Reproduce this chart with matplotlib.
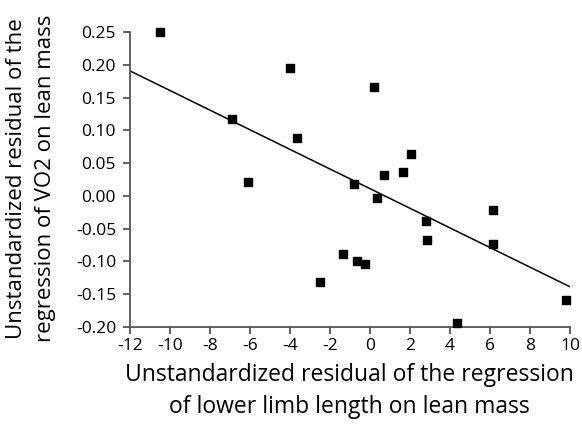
import numpy as np
import matplotlib.pyplot as plt

# residuals
limb_resid = [-10.5, -3.98, -6.9, -3.65, 0.18, 2.03, 0.7, 1.65, -6.1, -0.78,
              0.33, 6.17, 2.78, 2.85, 6.17, -1.35, -0.63, -0.25, -2.48, 9.8, 4.33]
vo2_resid = [0.250, 0.196, 0.117, 0.088, 0.167, 0.064, 0.032, 0.036, 0.021, 0.018,
             -0.004, -0.022, -0.039, -0.068, -0.074, -0.089, -0.100, -0.104, -0.131, -0.159, -0.194]

# regression line endpoints
fit_x = [-12, 10]
fit_y = [0.191, -0.139]

xticks = np.arange(-12, 11, 2)
yticks = np.round(np.arange(-0.20, 0.26, 0.05), 2)

plt.rcParams['font.family'] = ['Open Sans', 'DejaVu Sans']
plt.rcParams['axes.unicode_minus'] = False

fig = plt.figure(figsize=(5.82, 4.26), dpi=100)
ax = fig.add_axes([130/582, 1-326.7/426, 440/582, 294.4/426])

ax.plot(fit_x, fit_y, color='black', lw=1.1, zorder=2)
ax.scatter(limb_resid, vo2_resid, marker='s', s=27, color='black', zorder=3, clip_on=False)

ax.set_xlim(-12, 10)
ax.set_ylim(-0.20, 0.25)
ax.set_xticks(xticks)
ax.set_yticks(yticks)
ax.set_yticklabels([f'{v:.2f}'.replace('-0.00', '0.00') for v in yticks])

for s in ['top', 'right']:
    ax.spines[s].set_visible(False)
for s in ['left', 'bottom']:
    ax.spines[s].set_color('#555555')
    ax.spines[s].set_linewidth(1.3)
ax.tick_params(direction='out', length=5, width=1.3, color='#555555', labelsize=12.5)
ax.tick_params(axis='y', pad=5)
ax.tick_params(axis='x', pad=3)

fig.text(349/582, 1-375/426, 'Unstandardized residual of the regression',
         ha='center', va='center', fontsize=16.5)
fig.text(349/582, 1-407/426, 'of lower limb length on lean mass',
         ha='center', va='center', fontsize=16.5)
fig.text(16.5/582, 1-179/426, 'Unstandardized residual of the',
         ha='center', va='center', rotation=90, fontsize=16)
fig.text(46/582, 1-178/426, 'regression of VO2 on lean mass',
         ha='center', va='center', rotation=90, fontsize=16)

fig.savefig('out.png', dpi=100)
